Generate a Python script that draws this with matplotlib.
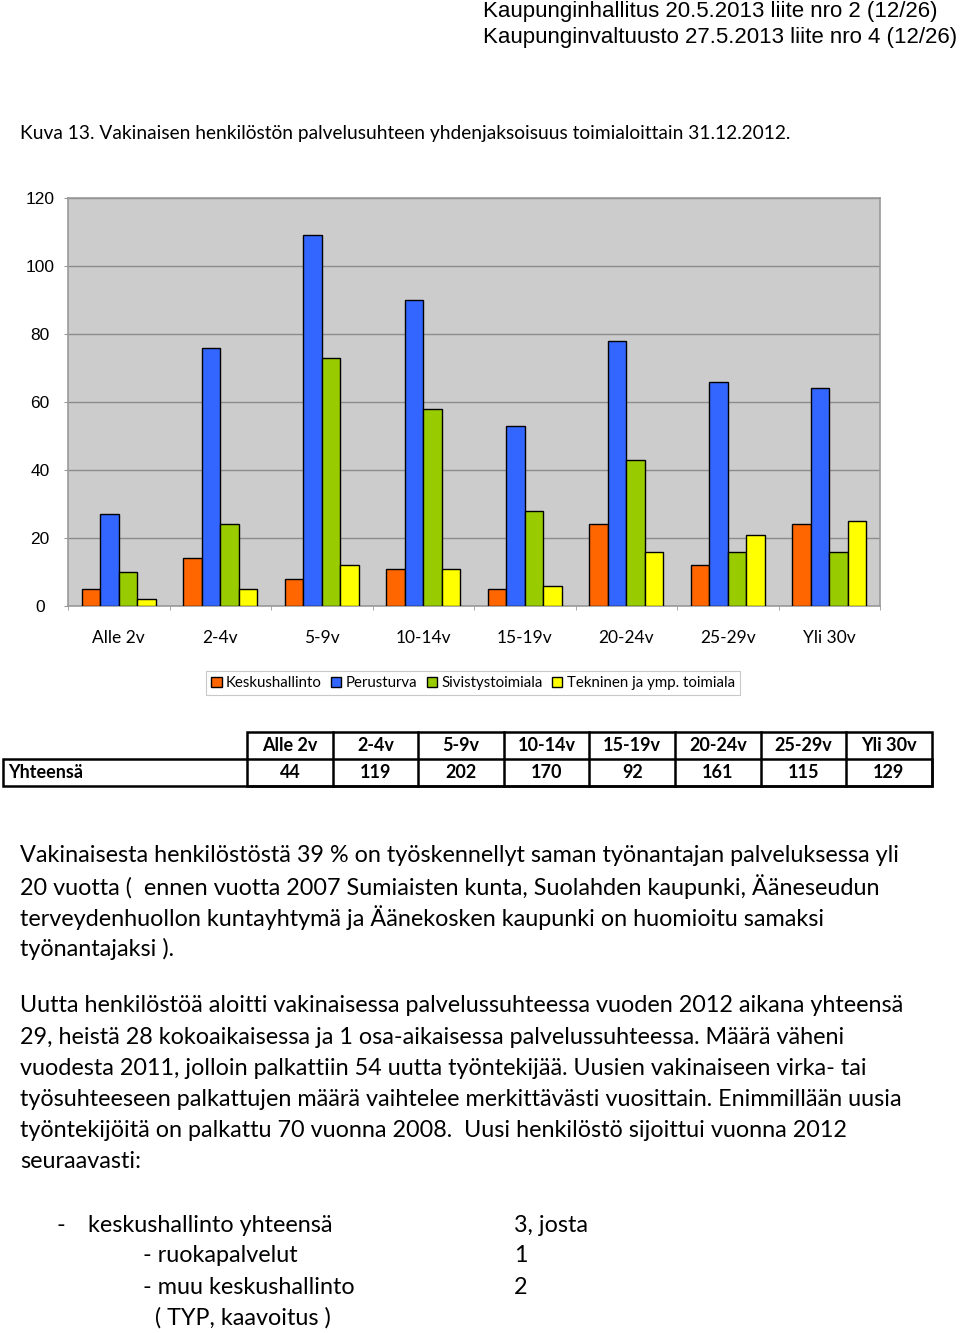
import numpy as np
import matplotlib
matplotlib.use('Agg')
import matplotlib.pyplot as plt
from matplotlib.patches import Rectangle


# data
categories = ['Alle 2v', '2-4v', '5-9v', '10-14v', '15-19v', '20-24v', '25-29v', 'Yli 30v']
series_names = ['Keskushallinto', 'Perusturva', 'Sivistystoimiala', 'Tekninen ja ymp. toimiala']
keskushallinto = [5, 14, 8, 11, 5, 24, 12, 24]
perusturva = [27, 76, 109, 90, 53, 78, 66, 64]
sivistystoimiala = [10, 24, 73, 58, 28, 43, 16, 16]
tekninen = [2, 5, 12, 11, 6, 16, 21, 25]
totals = [44, 119, 202, 170, 92, 161, 115, 129]
colors = ['#FF6600', '#3366FF', '#99CC00', '#FFFF00']

header_lines = ['Kaupunginhallitus 20.5.2013 liite nro 2 (12/26)',
                'Kaupunginvaltuusto 27.5.2013 liite nro 4 (12/26)']
caption = 'Kuva 13. Vakinaisen henkilöstön palvelusuhteen yhdenjaksoisuus toimialoittain 31.12.2012.'
para1 = ['Vakinaisesta henkilöstöstä 39 % on työskennellyt saman työnantajan palveluksessa yli',
         '20 vuotta (  ennen vuotta 2007 Sumiaisten kunta, Suolahden kaupunki, Ääneseudun',
         'terveydenhuollon kuntayhtymä ja Äänekosken kaupunki on huomioitu samaksi',
         'työnantajaksi ).']
para2 = ['Uutta henkilöstöä aloitti vakinaisessa palvelussuhteessa vuoden 2012 aikana yhteensä',
         '29, heistä 28 kokoaikaisessa ja 1 osa-aikaisessa palvelussuhteessa. Määrä väheni',
         'vuodesta 2011, jolloin palkattiin 54 uutta työntekijää. Uusien vakinaiseen virka- tai',
         'työsuhteeseen palkattujen määrä vaihtelee merkittävästi vuosittain. Enimmillään uusia',
         'työntekijöitä on palkattu 70 vuonna 2008.  Uusi henkilöstö sijoittui vuonna 2012',
         'seuraavasti:']

W, H = 960, 1333
body_font = 'Lato'
body_size = 16.8
fig = plt.figure(figsize=(W / 100, H / 100), dpi=100)

# chart
ax = fig.add_axes([68 / W, 1 - 606 / H, (880 - 68) / W, (606 - 198) / H])
ax.set_facecolor('#CCCCCC')
x = np.arange(len(categories))
bw = 0.183
all_series = [keskushallinto, perusturva, sivistystoimiala, tekninen]
bars = []
for i, vals in enumerate(all_series):
    b = ax.bar(x + (i - 1.5) * bw, vals, bw, color=colors[i], edgecolor='black',
               linewidth=1, label=series_names[i], zorder=3)
    bars.append(b)

ax.set_xlim(-0.5, len(categories) - 0.5)
ax.set_ylim(0, 120)
ax.set_yticks(range(0, 121, 20))
ax.yaxis.grid(True, color='#8C8C8C', linewidth=1, zorder=1)
for s in ax.spines.values():
    s.set_color('#999999')
    s.set_linewidth(1.2)
ax.set_xticks(x)
ax.set_xticklabels(categories, family=body_font, fontsize=12.5)
ax.set_xticks(np.arange(-0.5, len(categories)), minor=True)
ax.tick_params(axis='x', which='major', length=0, pad=17)
ax.tick_params(axis='x', which='minor', length=3, color='#999999')
ax.tick_params(axis='y', length=3, color='#999999', pad=17)
for lab in ax.get_yticklabels():
    lab.set_family('Liberation Sans')
    lab.set_fontsize(12.5)
    lab.set_horizontalalignment('center')

leg = fig.legend(handles=bars, labels=series_names, loc='center', ncol=4,
                 bbox_to_anchor=(473 / W, 1 - 683 / H), frameon=True, fancybox=False,
                 edgecolor='#BBBBBB', handlelength=0.7, handleheight=0.7,
                 handletextpad=0.3, columnspacing=0.6, borderpad=0.35,
                 prop={'family': body_font, 'size': 10.8})
leg.get_frame().set_linewidth(0.8)

# overlay for page text and table, pixel coordinates
ov = fig.add_axes([0, 0, 1, 1])
ov.set_xlim(0, W)
ov.set_ylim(H, 0)
ov.axis('off')
ov.patch.set_alpha(0)

ov.text(483, 11, header_lines[0], fontsize=16, family='Liberation Sans', va='center')
ov.text(483, 37, header_lines[1], fontsize=16, family='Liberation Sans', va='center')
ov.text(20, 133, caption, fontsize=13.8, family=body_font, va='center')

# table
col_x = [247, 332.7, 418.3, 504, 589.3, 675.3, 760.7, 846, 931.7]
row_y = [731.5, 759, 786]
lw = 1.8
ov.add_patch(Rectangle((col_x[0], row_y[0]), col_x[-1] - col_x[0], row_y[2] - row_y[0],
                       fill=False, lw=lw, ec='black'))
ov.add_patch(Rectangle((3, row_y[1]), col_x[-1] - 3, row_y[2] - row_y[1],
                       fill=False, lw=lw, ec='black'))
for cx in col_x[1:-1]:
    ov.plot([cx, cx], [row_y[0], row_y[2]], color='black', lw=lw)
for i, cat in enumerate(categories):
    cx = (col_x[i] + col_x[i + 1]) / 2
    ov.text(cx, (row_y[0] + row_y[1]) / 2, cat, ha='center', va='center',
            fontsize=13, weight='bold', family=body_font)
    ov.text(cx, (row_y[1] + row_y[2]) / 2, str(totals[i]), ha='center', va='center',
            fontsize=13, weight='bold', family=body_font)
ov.text(8, (row_y[1] + row_y[2]) / 2, 'Yhteensä', va='center', fontsize=13,
        weight='bold', family=body_font)

# paragraphs
for k, line in enumerate(para1):
    ov.text(20, 856 + k * 31, line, va='center', fontsize=body_size, family=body_font)
for k, line in enumerate(para2):
    ov.text(20, 1006 + k * 31.2, line, va='center', fontsize=body_size, family=body_font)

ov.text(57, 1225, '-', va='center', fontsize=body_size, family=body_font)
ov.text(88, 1225, 'keskushallinto yhteensä', va='center', fontsize=body_size, family=body_font)
ov.text(143, 1256, '- ruokapalvelut', va='center', fontsize=body_size, family=body_font)
ov.text(143, 1287, '- muu keskushallinto', va='center', fontsize=body_size, family=body_font)
ov.text(155, 1318, '( TYP, kaavoitus )', va='center', fontsize=body_size, family=body_font)
ov.text(514, 1225, '3, josta', va='center', fontsize=body_size, family=body_font)
ov.text(514, 1256, '1', va='center', fontsize=body_size, family=body_font)
ov.text(514, 1287, '2', va='center', fontsize=body_size, family=body_font)

fig.savefig('out.png', dpi=100)
